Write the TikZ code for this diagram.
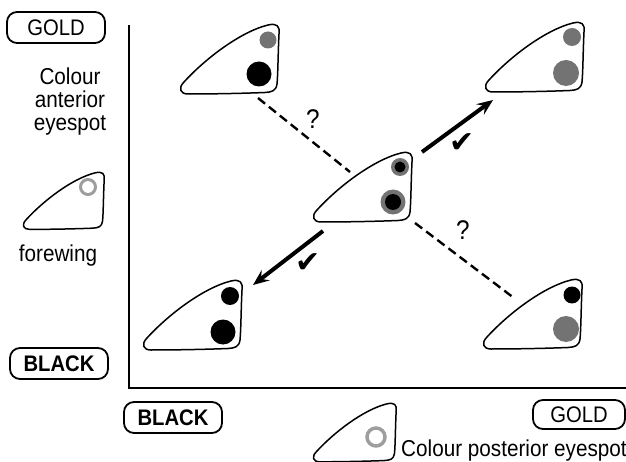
\documentclass[tikz,border=0pt]{standalone}
\usepackage{fontspec}
\setmainfont{Liberation Sans}[FakeStretch=0.9]
\newfontfamily\symfont{DejaVu Sans}
\usetikzlibrary{arrows.meta}

\definecolor{spotgrey}{gray}{0.45}
\definecolor{ringgrey}{gray}{0.62}

\tikzset{
  txt/.style={font=\fontsize{23}{23}\selectfont, inner sep=0pt},
  tagbox/.style={draw, line width=1.8pt, rounded corners=10pt,
    minimum width=98pt, minimum height=31pt, inner sep=0pt,
    font=\fontsize{22.5}{24}\selectfont},
  wingoutline/.style={line width=1.5pt, line join=round},
  axisline/.style={line width=1.5pt},
  guessline/.style={line width=2.4pt, dash pattern=on 9pt off 5pt},
  trendarrow/.style={line width=4pt,
    -{Stealth[length=16pt,width=13pt,inset=6pt]}},
  tick/.style={font=\symfont\fontsize{30}{30}\selectfont, inner sep=0pt},
  qmark/.style={font=\fontsize{27}{27}\selectfont, inner sep=0pt},
  % forewing outline, 100 x 70 units, origin at the top-left corner
  wing/.pic={
    \draw[wingoutline] (8,70) .. controls (0,70) and (-2,64) .. (4,58)
      .. controls (25,35) and (60,8) .. (88,1)
      .. controls (97,-1) and (100,2) .. (99,10)
      .. controls (98,30) and (98,50) .. (97,60)
      .. controls (96,67) and (92,68) .. (85,68.5)
      .. controls (60,69.5) and (30,70) .. (8,70) -- cycle;
  }
}

\begin{document}
\begin{tikzpicture}[x=1pt, y=-1pt]
\useasboundingbox (0,0) rectangle (626,462);

% axes
\coordinate (origin) at (129,388);
\coordinate (ytop) at (129,25);
\coordinate (xend) at (626,388);
\draw[axisline] (ytop) -- (origin) -- (xend);

% axis tags
\node[tagbox] (goldY) at (56,27.5) {GOLD};
\node[tagbox] (blackY) at (59,363.5) {\bfseries BLACK};
\node[tagbox] (blackX) at (173,417.5) {\bfseries BLACK};
\node[tagbox, minimum width=92pt, minimum height=29pt] (goldX) at (579,414.5) {GOLD};

% y-axis legend
\node[txt, align=center] (antlab) at (70,102) {Colour\\anterior\\eyespot};
\pic[scale=0.82] at (23,172) {wing};
\draw[ringgrey, line width=3pt] (88,187) circle[radius=7.5pt];
\node[txt] (forelab) at (58,256) {forewing};

% x-axis legend
\pic[scale=0.84] at (313,403) {wing};
\draw[ringgrey, line width=3.5pt] (376,437) circle[radius=9pt];
\node[txt, anchor=base west] (postlab) at (401,456) {Colour posterior eyespot};

% black anterior, gold posterior
\begin{scope}[shift={(180,24)}]
  \pic {wing};
  \fill[spotgrey] (88,16) circle[radius=8.5pt];
  \fill[black] (79,50) circle[radius=12.5pt];
\end{scope}

% gold / gold
\begin{scope}[shift={(485,22)}]
  \pic {wing};
  \fill[spotgrey] (87,15) circle[radius=9pt];
  \fill[spotgrey] (81,51) circle[radius=13pt];
\end{scope}

% intermediate wing in the centre
\begin{scope}[shift={(313,152)}]
  \pic {wing};
  \fill[spotgrey] (87,15) circle[radius=9pt];
  \fill[black] (87,15) circle[radius=5.5pt];
  \fill[spotgrey] (80,50) circle[radius=12.5pt];
  \fill[black] (80,50) circle[radius=8pt];
\end{scope}

% black / black
\begin{scope}[shift={(143,280)}]
  \pic {wing};
  \fill[black] (87,16) circle[radius=9pt];
  \fill[black] (80,52) circle[radius=12.5pt];
\end{scope}

% gold anterior, black posterior
\begin{scope}[shift={(483,279)}]
  \pic {wing};
  \fill[black] (89,16) circle[radius=8.5pt];
  \fill[spotgrey] (83,50) circle[radius=13pt];
\end{scope}

% uncertain directions
\coordinate (qa1) at (258,98);
\coordinate (qa2) at (350,172);
\coordinate (qb1) at (415,223);
\coordinate (qb2) at (514,298);
\draw[guessline] (qa1) -- (qa2);
\draw[guessline] (qb1) -- (qb2);
\node[qmark] (qmarkA) at (313,119) {?};
\node[qmark] (qmarkB) at (463,230) {?};

% supported directions
\coordinate (up1) at (422,152);
\coordinate (up2) at (493,100);
\coordinate (dn1) at (323,231);
\coordinate (dn2) at (253,285);
\draw[trendarrow] (up1) -- (up2);
\draw[trendarrow] (dn1) -- (dn2);
\node[tick] (tickA) at (462,143) {✔};
\node[tick] (tickB) at (308,263) {✔};
\end{tikzpicture}
\end{document}
